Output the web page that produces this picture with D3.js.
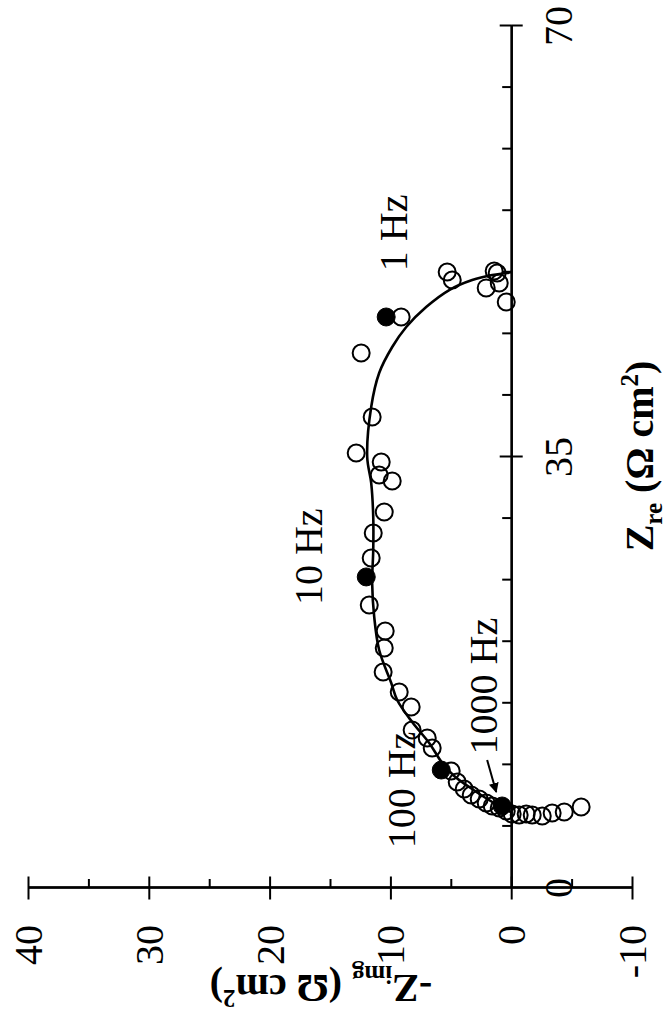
<!DOCTYPE html>
<html><head><meta charset="utf-8">
<script src="https://cdn.jsdelivr.net/npm/d3@7"></script>
<style>
body{margin:0;background:#fff}
svg{display:block}
text{font-family:"Liberation Serif","Times New Roman",serif;fill:#000}
</style>
</head><body>
<svg id="c" width="668" height="1018"></svg>
<script>
// Nyquist data: Zre (Ω cm²) and -Zimg (Ω cm²)
const openZre = [6.58, 6.17, 6.09, 5.85, 5.93, 6.01, 5.93, 6.01, 6.25, 6.50, 6.66, 6.90, 7.23, 7.55, 8.04, 8.61, 9.50, 11.37, 12.18, 12.83, 14.70, 15.92, 17.54, 19.49, 20.87, 22.98, 26.80, 28.83, 30.53, 33.05, 33.54, 34.59, 35.33, 38.25, 43.45, 46.37, 50.02, 49.37, 48.73, 50.11, 49.94, 49.13, 47.59];
const openZimg = [-5.79, -4.39, -3.39, -2.57, -1.74, -1.24, -0.66, -0.08, 0.41, 0.99, 1.57, 2.07, 2.65, 3.31, 3.89, 4.47, 4.97, 6.54, 6.95, 8.20, 8.28, 9.27, 10.60, 10.51, 10.43, 11.75, 11.59, 11.42, 10.51, 9.85, 10.93, 10.76, 12.83, 11.51, 12.42, 9.11, 5.30, 4.88, 2.07, 1.41, 1.16, 0.99, 0.41];
const fillZre = [6.66, 9.58, 25.26, 46.37];
const fillZimg = [0.75, 5.79, 12.00, 10.35];
const fitZre = [6.17, 6.66, 7.39, 8.20, 9.10, 10.15, 11.78, 13.48, 15.27, 16.65, 19.33, 22.01, 24.77, 27.45, 30.13, 32.89, 35.00, 39.06, 41.82, 43.93, 45.56, 47.18, 48.56, 49.37, 49.78, 49.94, 50.02];
const fitZimg = [0, 0.99, 2.24, 3.48, 4.72, 5.71, 6.79, 8.20, 9.44, 9.93, 10.93, 11.34, 11.51, 11.42, 11.42, 11.59, 11.92, 11.59, 10.93, 9.85, 8.69, 7.04, 5.13, 3.23, 1.57, 0.41, 0];
const zreTicks = [0, 35, 70];
const zreMinor = [5, 10, 15, 20, 25, 30, 40, 45, 50, 55, 60, 65];
const zimgTicks = [-10, 0, 10, 20, 30, 40];
const zimgMinor = [-5, 5, 15, 25, 35];
const freqLabels = ["1 Hz", "10 Hz", "100 Hz", "1000 Hz"];
const freqZre = [53.2, 26.9, 7.96, 16.4];
const freqZimg = [8.6, 15.7, 8.0, 1.16];
const arrowZre = [10.39, 7.80];
const arrowZimg = [1.99, 1.24];

const svg = d3.select("#c");
// whole chart is rotated 90° counter-clockwise
const g = svg.append("g").attr("transform", "translate(0,1018) rotate(-90)");
const x = d3.scaleLinear().domain([0, 70]).range([130, 992]);
const y = d3.scaleLinear().domain([-10, 40]).range([632, 28]);

function styleAxis(sel) {
  sel.selectAll("path.domain").attr("stroke", "#000").attr("stroke-width", 2);
  sel.selectAll(".tick line").attr("stroke", "#000").attr("stroke-width", 2);
  sel.selectAll(".tick text").remove();
}
// Zre axis at -Zimg = 0
const xa = g.append("g").attr("transform", `translate(0,${y(0)})`);
xa.append("g").call(d3.axisBottom(x).tickValues(zreTicks.filter(d => d > 0)).tickSize(11.5).tickSizeOuter(0).tickFormat("")).call(styleAxis);
xa.append("g").call(d3.axisTop(x).tickValues(zreTicks.filter(d => d > 0)).tickSize(11.5).tickSizeOuter(0).tickFormat("")).call(styleAxis);
xa.append("g").call(d3.axisTop(x).tickValues(zreMinor).tickSize(9).tickSizeOuter(0).tickFormat("")).call(styleAxis);
// -Zimg axis at Zre = 0
const ya = g.append("g").attr("transform", `translate(${x(0)},0)`);
ya.append("g").call(d3.axisLeft(y).tickValues(zimgTicks).tickSize(11.5).tickSizeOuter(0).tickFormat("")).call(styleAxis);
ya.append("g").call(d3.axisRight(y).tickValues(zimgTicks).tickSize(11.5).tickSizeOuter(0).tickFormat("")).call(styleAxis);
ya.append("g").call(d3.axisRight(y).tickValues(zimgMinor).tickSize(9).tickSizeOuter(0).tickFormat("")).call(styleAxis);

// tick labels
g.selectAll("text.xl").data(zreTicks).join("text").attr("class", "xl")
  .attr("x", d => x(d)).attr("y", y(0) + 61).attr("text-anchor", "middle")
  .attr("font-size", 40).text(d => d);
g.selectAll("text.yl").data(zimgTicks).join("text").attr("class", "yl")
  .attr("x", x(0) - 37).attr("y", d => y(d)).attr("dy", "0.35em").attr("text-anchor", "end")
  .attr("font-size", 40).text(d => d);

// axis titles
const xt = g.append("text").attr("x", 562).attr("y", 653).attr("text-anchor", "middle")
  .attr("font-size", 40).attr("font-weight", "bold");
xt.append("tspan").text("Z");
xt.append("tspan").attr("font-size", 25).attr("dy", 9).text("re");
xt.append("tspan").attr("dy", -9).text(" (Ω cm");
xt.append("tspan").attr("font-size", 25).attr("dy", -15).text("2");
xt.append("tspan").attr("dy", 15).text(")");

const yt = g.append("text").attr("transform", "translate(43,321) rotate(-90)").attr("text-anchor", "middle")
  .attr("font-size", 40).attr("font-weight", "bold");
yt.append("tspan").text("-Z");
yt.append("tspan").attr("font-size", 25).attr("dy", 9).text("img");
yt.append("tspan").attr("dy", -9).text(" (Ω cm");
yt.append("tspan").attr("font-size", 25).attr("dy", -15).text("2");
yt.append("tspan").attr("dy", 15).text(")");

// fitted curve
const line = d3.line().x(d => x(d[0])).y(d => y(d[1])).curve(d3.curveCatmullRom.alpha(0.5));
g.append("path").datum(fitZre.map((d, i) => [d, fitZimg[i]]))
  .attr("d", line).attr("fill", "none").attr("stroke", "#000").attr("stroke-width", 2.6);

// points
g.selectAll("circle.o").data(openZre.map((d, i) => [d, openZimg[i]])).join("circle").attr("class", "o")
  .attr("cx", d => x(d[0])).attr("cy", d => y(d[1])).attr("r", 8.5)
  .attr("fill", "none").attr("stroke", "#000").attr("stroke-width", 2);
g.selectAll("circle.f").data(fillZre.map((d, i) => [d, fillZimg[i]])).join("circle").attr("class", "f")
  .attr("cx", d => x(d[0])).attr("cy", d => y(d[1])).attr("r", 9)
  .attr("fill", "#000").attr("stroke", "#000").attr("stroke-width", 1);

// frequency labels
g.selectAll("text.fq").data(freqLabels).join("text").attr("class", "fq")
  .attr("x", (d, i) => x(freqZre[i])).attr("y", (d, i) => y(freqZimg[i]))
  .attr("text-anchor", "middle").attr("font-size", 40).text(d => d);

// arrow
svg.append("defs").append("marker").attr("id", "ah").attr("viewBox", "0 0 10 10")
  .attr("refX", 9).attr("refY", 5).attr("markerWidth", 5).attr("markerHeight", 5)
  .attr("orient", "auto").attr("markerUnits", "strokeWidth")
  .append("path").attr("d", "M0,0 L10,5 L0,10 z").attr("fill", "#000");
g.append("line").attr("x1", x(arrowZre[0])).attr("y1", y(arrowZimg[0]))
  .attr("x2", x(arrowZre[1])).attr("y2", y(arrowZimg[1]))
  .attr("stroke", "#000").attr("stroke-width", 2).attr("marker-end", "url(#ah)");
</script>
</body></html>
